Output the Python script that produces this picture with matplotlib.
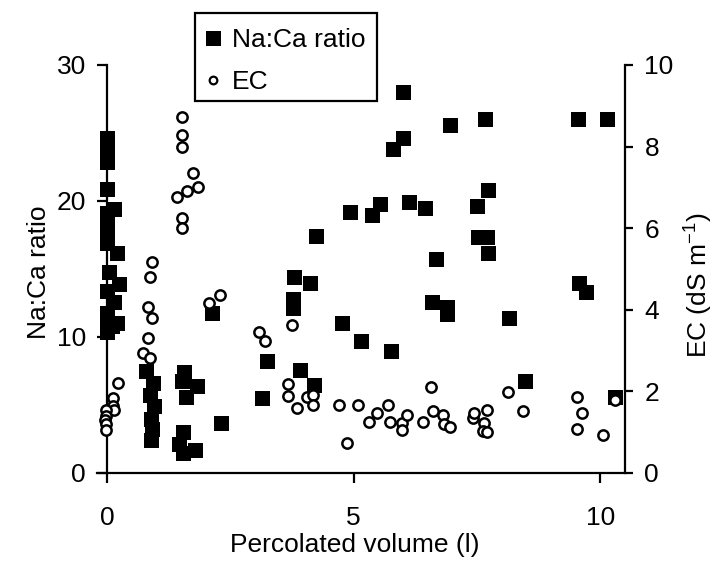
import matplotlib
matplotlib.use("Agg")
import matplotlib.pyplot as plt
from matplotlib.lines import Line2D
from matplotlib.patches import Rectangle

plt.rcParams['font.family'] = ['Liberation Sans', 'DejaVu Sans']
plt.rcParams['mathtext.fontset'] = 'custom'
plt.rcParams['mathtext.rm'] = 'Liberation Sans'
plt.rcParams['mathtext.it'] = 'Liberation Sans'
plt.rcParams['mathtext.default'] = 'regular'

# Na:Ca ratio of the percolate versus percolated volume (l)
volume_na = [
    0.0, 0.0, 0.0, 0.0, 0.0, 0.15, 0.0, 0.0, 0.0, 0.0, 0.2, 0.05, 0.24, 0.0,
    0.15, 0.0, 0.2, 0.0, 0.1, 0.0,
    0.8, 0.93, 0.87, 0.95, 0.9, 0.92, 0.9,
    1.56, 1.52, 1.82, 1.6, 1.55, 1.47, 1.78, 1.55,
    2.13, 2.31, 3.14, 3.25, 3.77, 3.77, 3.79, 3.91, 4.12, 4.2, 4.24, 4.77,
    4.93, 5.15, 5.37, 5.54, 5.76, 5.8, 6.0, 6.0, 6.13, 6.45, 6.59, 6.67,
    6.9, 6.9, 6.96, 7.5, 7.52, 7.7, 7.67, 7.72, 7.72, 8.15, 8.48, 9.55,
    9.57, 9.7, 10.14, 10.3,
]
na_ca = [
    24.6, 24.1, 23.4, 22.9, 20.9, 19.4, 19.1, 18.2, 17.4, 16.9, 16.2, 14.8,
    13.9, 13.4, 12.6, 11.8, 11.0, 11.2, 10.8, 10.4,
    7.5, 6.6, 5.7, 4.9, 4.0, 3.2, 2.4,
    7.4, 6.8, 6.4, 5.6, 3.0, 2.1, 1.7, 1.5,
    11.8, 3.7, 5.5, 8.2, 12.1, 12.8, 14.4, 7.6, 14.0, 6.5, 17.4, 11.0,
    19.2, 9.7, 19.0, 19.8, 9.0, 23.8, 24.6, 28.0, 19.9, 19.5, 12.6, 15.7,
    12.2, 11.7, 25.6, 19.6, 17.35, 17.35, 26.0, 20.8, 16.2, 11.4, 6.8, 26.0,
    14.0, 13.3, 26.0, 5.6,
]

# Electrical conductivity of the percolate (dS m-1)
volume_ec = [
    0.22, 0.12, 0.12, 0.15, -0.02, -0.02, -0.04, -0.02, -0.02,
    0.91, 0.87, 0.83, 0.91, 0.83, 0.73, 0.87,
    1.52, 1.52, 1.52, 1.74, 1.85, 1.62, 1.42, 1.52, 1.52,
    2.07, 2.29, 3.08, 3.2, 3.75, 3.67, 3.67, 3.85, 4.06, 4.18, 4.18, 4.7,
    4.87, 5.09, 5.31, 5.48, 5.7, 5.74, 5.98, 5.98, 6.08, 6.41, 6.57, 6.61,
    6.82, 6.84, 6.96, 7.42, 7.45, 7.64, 7.62, 7.7, 7.7, 8.13, 8.44, 9.53,
    9.63, 9.53, 10.06, 10.3,
]
ec = [
    2.2, 1.85, 1.65, 1.55, 1.55, 1.4, 1.3, 1.2, 1.05,
    5.17, 4.8, 4.07, 3.8, 3.3, 2.94, 2.82,
    8.73, 8.28, 8.0, 7.35, 7.0, 6.9, 6.76, 6.25, 6.0,
    4.17, 4.36, 3.46, 3.24, 3.63, 2.18, 1.89, 1.6, 1.86, 1.91, 1.67, 1.67,
    0.74, 1.67, 1.25, 1.47, 1.67, 1.25, 1.23, 1.05, 1.42, 1.25, 2.1, 1.52,
    1.42, 1.2, 1.13, 1.35, 1.47, 1.23, 1.03, 1.54, 1.0, 1.99, 1.52, 1.86,
    1.47, 1.08, 0.93, 1.8,
]

x_ticks = [0, 5, 10]
na_ticks = [0, 10, 20, 30]
ec_ticks = [0, 2, 4, 6, 8, 10]

W, H = 715, 563
fig = plt.figure(figsize=(W / 100, H / 100), dpi=100)
ax = fig.add_axes([97 / W, 1 - 473 / H, 528 / W, 408 / H])
ax2 = ax.twinx()

sq = dict(marker='s', linestyle='none', markersize=10.8, color='black',
          markeredgewidth=0)
circ = dict(marker='o', linestyle='none', markersize=7.4,
            markerfacecolor='white', markeredgecolor='black',
            markeredgewidth=1.8)

ax.plot(volume_na, na_ca, clip_on=False, **sq)
ax2.plot(volume_ec, ec, clip_on=False, **circ)

ax.set_xlim(-0.2, 10.5)
ax.set_ylim(0, 30)
ax2.set_ylim(0, 10)

ax.set_xticks(x_ticks)
ax.set_yticks(na_ticks)
ax2.set_yticks(ec_ticks)

lw = 1.6
for s in ['top', 'right']:
    ax.spines[s].set_visible(False)
for s in ['top', 'left', 'bottom']:
    ax2.spines[s].set_visible(False)
ax.spines['left'].set_position(('data', 0))
ax.spines['left'].set_linewidth(lw)
ax.spines['bottom'].set_linewidth(lw)
ax2.spines['right'].set_linewidth(lw)

fs_tick = 19
fs_label = 19
ax.tick_params(axis='x', direction='out', length=7, width=lw, pad=17,
               labelsize=fs_tick)
ax.tick_params(axis='y', direction='out', length=7, width=lw, pad=8,
               labelsize=fs_tick)
ax2.tick_params(axis='y', direction='out', length=6, width=lw, pad=8,
                labelsize=fs_tick)

ax.set_xlabel('Percolated volume (l)', fontsize=fs_label)
ax.set_ylabel('Na:Ca ratio', fontsize=fs_label)
ax2.set_ylabel('EC (dS m$^{-1}$)', fontsize=fs_label)
ax.xaxis.set_label_coords(0.489, -0.148)
ax.yaxis.set_label_coords(-0.088, 0.493)
ax2.yaxis.set_label_coords(1.11, 0.46)

# legend: frame drawn as a figure rectangle, entries placed inside it
fig.patches.append(Rectangle((195 / W, 1 - 101 / H), 182 / W, 88 / H,
                             transform=fig.transFigure, facecolor='white',
                             edgecolor='black', linewidth=lw, zorder=2))
handles = [
    Line2D([], [], **sq),
    Line2D([], [], **{**circ, 'markersize': 5.5, 'markeredgewidth': 1.6}),
]
leg = fig.legend(handles, ['Na:Ca ratio', 'EC'], loc='upper left',
                 bbox_to_anchor=(202.5 / W, 1 - 28 / H), borderaxespad=0,
                 fontsize=fs_label, frameon=False, handlelength=0.8,
                 handletextpad=0.32, borderpad=0, labelspacing=0.68)
leg.set_zorder(5)

fig.savefig('out.png', dpi=100)
